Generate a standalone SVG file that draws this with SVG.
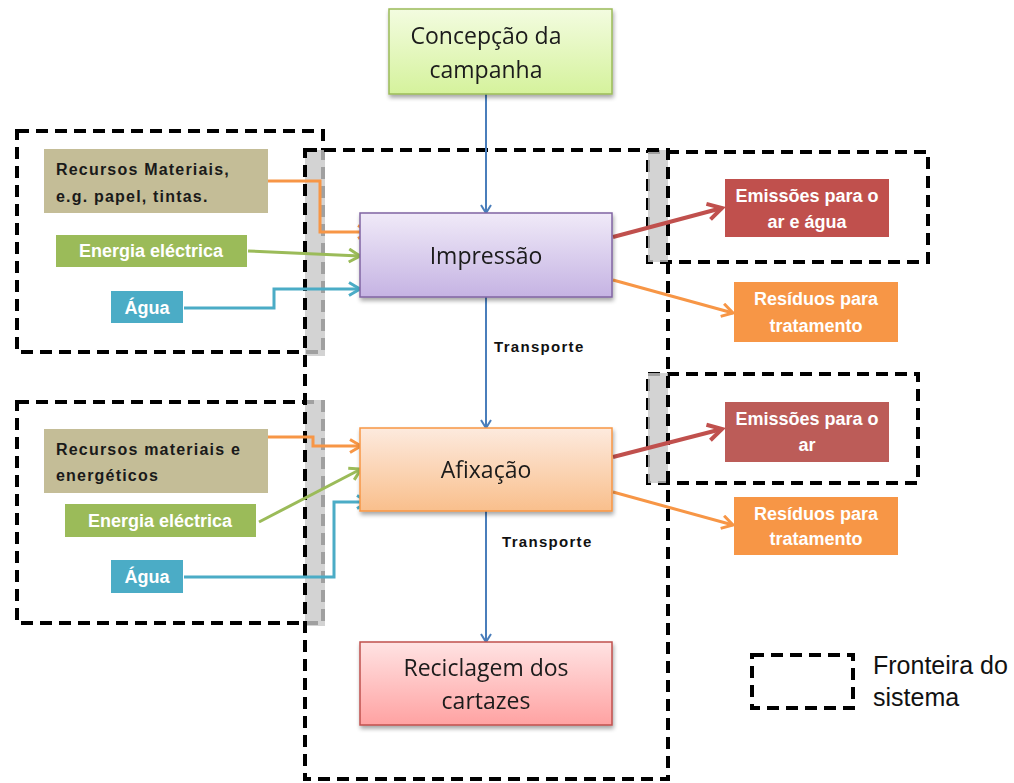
<svg xmlns="http://www.w3.org/2000/svg" width="1014" height="783" viewBox="0 0 1014 783">
  <defs>
    <linearGradient id="gGreen" x1="0" y1="0" x2="0" y2="1">
      <stop offset="0" stop-color="#f3fce0"/>
      <stop offset="1" stop-color="#d5f29c"/>
    </linearGradient>
    <linearGradient id="gPurple" x1="0" y1="0" x2="0" y2="1">
      <stop offset="0" stop-color="#f0eaf8"/>
      <stop offset="1" stop-color="#c5b3e3"/>
    </linearGradient>
    <linearGradient id="gOrange" x1="0" y1="0" x2="0" y2="1">
      <stop offset="0" stop-color="#fdeade"/>
      <stop offset="1" stop-color="#f9bf8c"/>
    </linearGradient>
    <linearGradient id="gPink" x1="0" y1="0" x2="0" y2="1">
      <stop offset="0" stop-color="#ffe3e3"/>
      <stop offset="1" stop-color="#ffa2a2"/>
    </linearGradient>
    <filter id="shadow" x="-10%" y="-10%" width="125%" height="135%">
      <feGaussianBlur in="SourceAlpha" stdDeviation="2"/>
      <feOffset dx="1" dy="3" result="b"/>
      <feComponentTransfer><feFuncA type="linear" slope="0.35"/></feComponentTransfer>
      <feMerge><feMergeNode/><feMergeNode in="SourceGraphic"/></feMerge>
    </filter>
    <marker id="aBlue" markerWidth="12" markerHeight="12" refX="10" refY="6" orient="auto" markerUnits="userSpaceOnUse">
      <polyline points="2,1 10,6 2,11" fill="none" stroke="#4a7ebb" stroke-width="2"/>
    </marker>
    <marker id="aOrange" markerWidth="16" markerHeight="16" refX="13" refY="8" orient="auto" markerUnits="userSpaceOnUse">
      <polyline points="2,1.5 13,8 2,14.5" fill="none" stroke="#f79646" stroke-width="3"/>
    </marker>
    <marker id="aGreen" markerWidth="16" markerHeight="16" refX="13" refY="8" orient="auto" markerUnits="userSpaceOnUse">
      <polyline points="2,1.5 13,8 2,14.5" fill="none" stroke="#9bbb59" stroke-width="3"/>
    </marker>
    <marker id="aCyan" markerWidth="16" markerHeight="16" refX="13" refY="8" orient="auto" markerUnits="userSpaceOnUse">
      <polyline points="2,1.5 13,8 2,14.5" fill="none" stroke="#4bacc6" stroke-width="3"/>
    </marker>
    <marker id="aRed" markerWidth="20" markerHeight="20" refX="16" refY="10" orient="auto" markerUnits="userSpaceOnUse">
      <polyline points="2,2 16,10 2,18" fill="none" stroke="#c0504d" stroke-width="4"/>
    </marker>
  </defs>
  <style>
    .bound { fill: none; stroke: #000; stroke-width: 4; stroke-dasharray: 12 7; }
    .bar { fill: #c8c8c8; fill-opacity: 0.8; }
    .main { font-family: "Open Sans", "Liberation Sans", sans-serif; font-size: 23px; fill: #1a1a1a; text-anchor: middle; }
    .res { font-family: "Liberation Sans", Arial, sans-serif; font-size: 16px; font-weight: bold; fill: #1a1a1a; letter-spacing: 1.2px; }
    .lbl { font-family: "Liberation Sans", Arial, sans-serif; font-size: 18px; font-weight: bold; fill: #fff; text-anchor: middle; }
    .tr { font-family: "Liberation Sans", Arial, sans-serif; font-size: 15px; font-weight: bold; fill: #111; letter-spacing: 1.3px; }
    .leg { font-family: "Liberation Sans", Arial, sans-serif; font-size: 25px; fill: #111; }
    .flow { fill: none; stroke-width: 3; }
  </style>

  <!-- system boundaries -->
  <g id="boundaries">
    <rect class="bound" x="17" y="131" width="306" height="221"/>
    <rect class="bound" x="17" y="402" width="306" height="221"/>
    <rect class="bound" x="648" y="152" width="280" height="110"/>
    <rect class="bound" x="648" y="374" width="270" height="109"/>
    <rect class="bar" x="305" y="150" width="20" height="206"/>
    <rect class="bar" x="305" y="400" width="20" height="226"/>
    <rect class="bar" x="648" y="150" width="20" height="112"/>
    <rect class="bar" x="648" y="373" width="20" height="110"/>
    <rect class="bound" x="305" y="150" width="363" height="629"/>
  </g>

  <!-- connectors -->
  <g id="connectors">
    <line x1="486" y1="94" x2="486" y2="213" stroke="#4a7ebb" stroke-width="2" marker-end="url(#aBlue)"/>
    <line x1="486" y1="297" x2="486" y2="428" stroke="#4a7ebb" stroke-width="2" marker-end="url(#aBlue)"/>
    <line x1="486" y1="511" x2="486" y2="642" stroke="#4a7ebb" stroke-width="2" marker-end="url(#aBlue)"/>

    <polyline class="flow" points="268,181 320,181 320,232 369,232" stroke="#f79646" marker-end="url(#aOrange)"/>
    <line class="flow" x1="248" y1="251" x2="360" y2="256" stroke="#9bbb59" marker-end="url(#aGreen)"/>
    <polyline class="flow" points="184,308 274,308 274,289 360,289" stroke="#4bacc6" marker-end="url(#aCyan)"/>
    <line x1="613" y1="237" x2="722" y2="208" stroke="#c0504d" stroke-width="4" marker-end="url(#aRed)"/>
    <line class="flow" x1="613" y1="280" x2="733" y2="313" stroke="#f79646" marker-end="url(#aOrange)"/>

    <polyline class="flow" points="268,437 313,437 313,446 361,446" stroke="#f79646" marker-end="url(#aOrange)"/>
    <line class="flow" x1="259" y1="522" x2="361" y2="469" stroke="#9bbb59" marker-end="url(#aGreen)"/>
    <polyline class="flow" points="184,577 334,577 334,502 368,502" stroke="#4bacc6" marker-end="url(#aCyan)"/>
    <line x1="613" y1="457" x2="722" y2="429" stroke="#c0504d" stroke-width="4" marker-end="url(#aRed)"/>
    <line class="flow" x1="613" y1="492" x2="733" y2="525" stroke="#f79646" marker-end="url(#aOrange)"/>

    <text class="tr" x="494" y="352">Transporte</text>
    <text class="tr" x="502" y="547">Transporte</text>
  </g>

  <!-- process steps -->
  <g id="concepcao" filter="url(#shadow)">
    <rect x="389" y="9" width="223" height="85" fill="url(#gGreen)" stroke="#9bbb59" stroke-width="1.5"/>
    <text class="main" x="486" y="44">Concepção da</text>
    <text class="main" x="486" y="78">campanha</text>
  </g>
  <g id="impressao" filter="url(#shadow)">
    <rect x="360" y="213" width="252" height="84" fill="url(#gPurple)" stroke="#8064a2" stroke-width="1.5"/>
    <text class="main" x="486" y="264">Impressão</text>
  </g>
  <g id="afixacao" filter="url(#shadow)">
    <rect x="360" y="428" width="252" height="83" fill="url(#gOrange)" stroke="#f79646" stroke-width="1.5"/>
    <text class="main" x="486" y="478">Afixação</text>
  </g>
  <g id="reciclagem" filter="url(#shadow)">
    <rect x="360" y="642" width="252" height="83" fill="url(#gPink)" stroke="#c0504d" stroke-width="1.5"/>
    <text class="main" x="486" y="676">Reciclagem dos</text>
    <text class="main" x="486" y="709">cartazes</text>
  </g>

  <!-- inputs: printing -->
  <g id="recursos1">
    <rect x="44" y="149" width="224" height="64" fill="#c4bd97"/>
    <text class="res" x="56" y="175">Recursos Materiais,</text>
    <text class="res" x="56" y="202">e.g. papel, tintas.</text>
  </g>
  <g id="energia1">
    <rect x="56" y="235" width="191" height="32" fill="#9bbb59"/>
    <text class="lbl" x="151" y="257">Energia eléctrica</text>
  </g>
  <g id="agua1">
    <rect x="111" y="291" width="72" height="32" fill="#4bacc6"/>
    <text class="lbl" x="147" y="314">Água</text>
  </g>

  <!-- inputs: posting -->
  <g id="recursos2">
    <rect x="44" y="429" width="224" height="64" fill="#c4bd97"/>
    <text class="res" x="56" y="455">Recursos materiais e</text>
    <text class="res" x="56" y="481">energéticos</text>
  </g>
  <g id="energia2">
    <rect x="65" y="504" width="191" height="33" fill="#9bbb59"/>
    <text class="lbl" x="160" y="527">Energia eléctrica</text>
  </g>
  <g id="agua2">
    <rect x="111" y="560" width="72" height="33" fill="#4bacc6"/>
    <text class="lbl" x="147" y="583">Água</text>
  </g>

  <!-- outputs -->
  <g id="emissoes1">
    <rect x="725" y="179" width="164" height="58" fill="#c0504d"/>
    <text class="lbl" x="807" y="202">Emissões para o</text>
    <text class="lbl" x="807" y="228">ar e água</text>
  </g>
  <g id="residuos1">
    <rect x="734" y="282" width="164" height="60" fill="#f79646"/>
    <text class="lbl" x="816" y="305">Resíduos para</text>
    <text class="lbl" x="816" y="332">tratamento</text>
  </g>
  <g id="emissoes2">
    <rect x="725" y="402" width="164" height="60" fill="#bc5c58"/>
    <text class="lbl" x="807" y="425">Emissões para o</text>
    <text class="lbl" x="807" y="451">ar</text>
  </g>
  <g id="residuos2">
    <rect x="734" y="497" width="164" height="58" fill="#f79646"/>
    <text class="lbl" x="816" y="520">Resíduos para</text>
    <text class="lbl" x="816" y="545">tratamento</text>
  </g>

  <!-- legend -->
  <g id="legend">
    <rect class="bound" x="752" y="655" width="101" height="53"/>
    <text class="leg" x="873" y="674">Fronteira do</text>
    <text class="leg" x="873" y="706">sistema</text>
  </g>
</svg>
